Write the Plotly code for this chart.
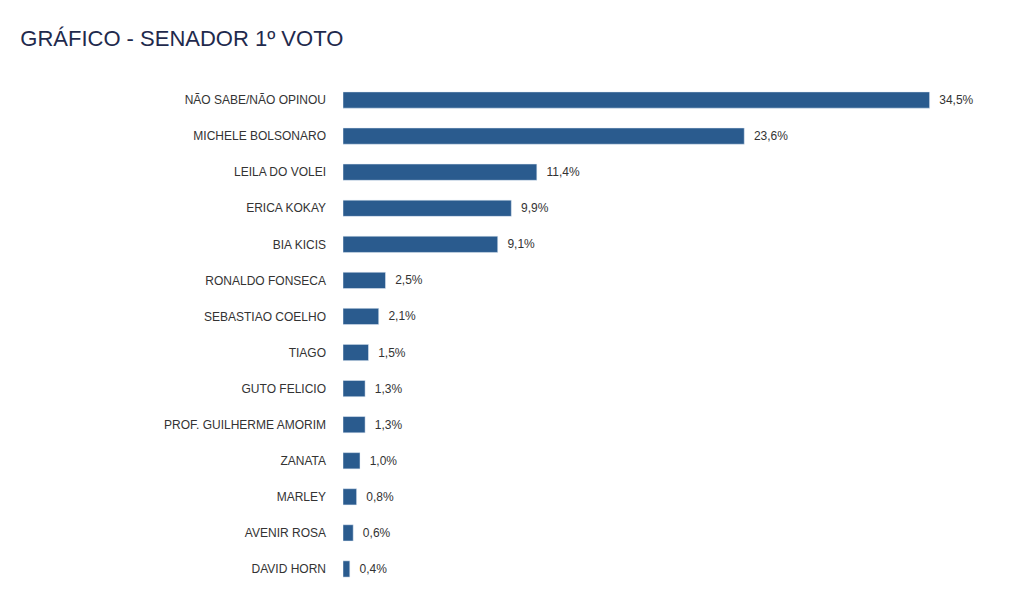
import plotly.graph_objects as go

candidates = [
    "NÃO SABE/NÃO OPINOU", "MICHELE BOLSONARO", "LEILA DO VOLEI", "ERICA KOKAY",
    "BIA KICIS", "RONALDO FONSECA", "SEBASTIAO COELHO", "TIAGO", "GUTO FELICIO",
    "PROF. GUILHERME AMORIM", "ZANATA", "MARLEY", "AVENIR ROSA", "DAVID HORN",
]
votes = [34.5, 23.6, 11.4, 9.9, 9.1, 2.5, 2.1, 1.5, 1.3, 1.3, 1.0, 0.8, 0.6, 0.4]
labels = ["  " + f"{v:.1f}%".replace(".", ",") for v in votes]

fig = go.Figure(go.Bar(
    x=votes,
    y=candidates,
    orientation="h",
    text=labels,
    textposition="outside",
    textfont=dict(size=12, color="#333333"),
    marker=dict(color="#2a5b8e"),
    width=0.45,
    cliponaxis=False,
))

fig.update_layout(
    width=1024, height=609,
    paper_bgcolor="white", plot_bgcolor="white",
    font=dict(family="Liberation Sans, Arial, sans-serif"),
    title=dict(text="GRÁFICO - SENADOR 1º VOTO", x=0.012, xanchor="left",
               y=0.95, yanchor="middle", pad=dict(t=0),
               font=dict(size=22, color="#1f2a4d")),
    margin=dict(l=335, r=14, t=74, b=30),
    showlegend=False,
    xaxis=dict(range=[0, 39.7], visible=False),
    yaxis=dict(autorange="reversed", showline=False, ticks="",
               ticklabelstandoff=16, tickfont=dict(size=12, color="#333333")),
)

fig.write_html("out.html")
